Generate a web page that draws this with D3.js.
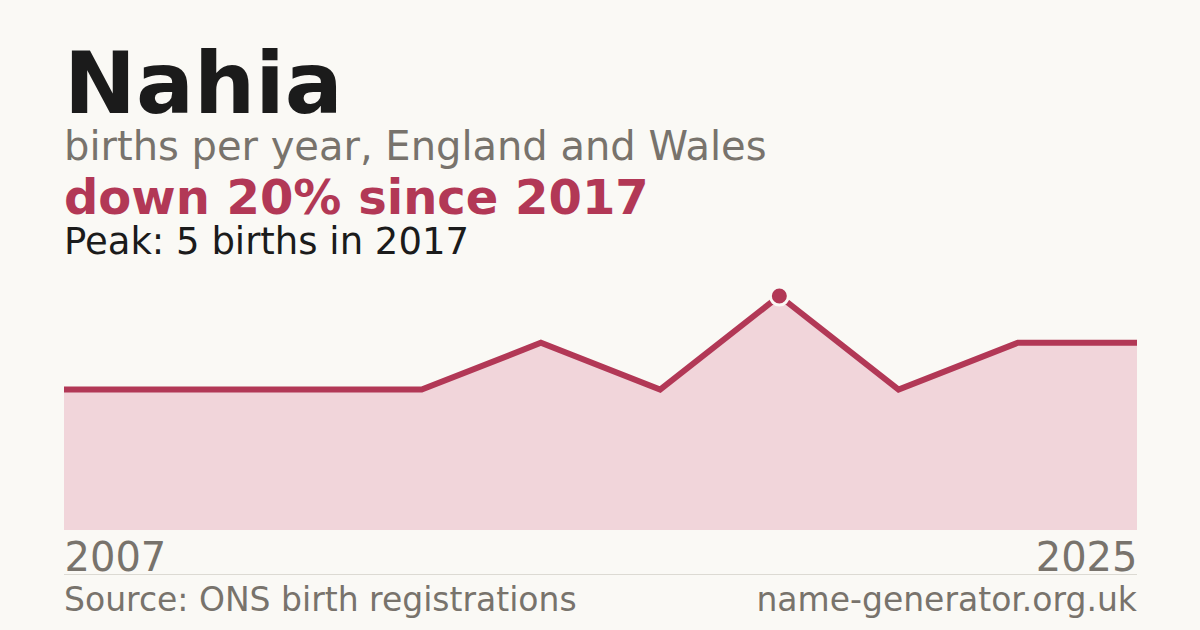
<!DOCTYPE html>
<html>
<head>
<meta charset="utf-8">
<script src="https://cdn.jsdelivr.net/npm/d3@7"></script>
<style>
  body { margin: 0; background: #faf9f5; }
  svg { display: block; font-family: "DejaVu Sans", sans-serif; }
</style>
</head>
<body>
<div id="chart-area"></div>
<script>

// data points (evenly spaced, first and last year labelled)
let years = ["2007", "2009", "2011", "2013", "2015", "2016", "2017", "2019", "2021", "2025"];
let births = [3, 3, 3, 3, 4, 3, 5, 3, 4, 4];
let peakYear = "2017";
let peakValue = 5;

let width = 1200, height = 630;

let svg = d3.select("#chart-area").append("svg")
	.attr("width", width)
	.attr("height", height);

svg.append("rect")
	.attr("width", width)
	.attr("height", height)
	.attr("fill", "#faf9f5");

// header text
svg.append("text")
	.attr("x", 64).attr("y", 113)
	.attr("font-size", 86).attr("font-weight", "bold")
	.attr("fill", "#1b1b1b")
	.text("Nahia");

svg.append("text")
	.attr("x", 64).attr("y", 160)
	.attr("font-size", 40)
	.attr("fill", "#78736c")
	.text("births per year, England and Wales");

svg.append("text")
	.attr("x", 64).attr("y", 214)
	.attr("font-size", 48).attr("font-weight", "bold")
	.attr("fill", "#b23856")
	.text("down 20% since 2017");

svg.append("text")
	.attr("x", 64).attr("y", 254)
	.attr("font-size", 37)
	.attr("fill", "#1b1b1b")
	.text("Peak: " + peakValue + " births in " + peakYear);

// scales
let x = d3.scalePoint()
	.domain(years)
	.range([64, 1137]);

let y = d3.scaleLinear()
	.domain([0, peakValue])
	.range([530, 296]);

let data = years.map((yr, i) => ({year: yr, value: births[i]}));

// area
let area = d3.area()
	.x(d => x(d.year))
	.y0(y(0))
	.y1(d => y(d.value));

svg.append("path")
	.datum(data)
	.attr("d", area)
	.attr("fill", "#f1d5da");

// line
let line = d3.line()
	.x(d => x(d.year))
	.y(d => y(d.value));

svg.append("path")
	.datum(data)
	.attr("d", line)
	.attr("fill", "none")
	.attr("stroke", "#b23856")
	.attr("stroke-width", 6);

// peak marker
let peak = data.find(d => d.year === peakYear);
svg.append("circle")
	.attr("cx", x(peak.year))
	.attr("cy", y(peak.value))
	.attr("r", 9)
	.attr("fill", "#b23856")
	.attr("stroke", "#faf9f5")
	.attr("stroke-width", 3);

// x labels, first and last only
let xAxis = d3.axisBottom(x)
	.tickValues([years[0], years[years.length - 1]])
	.tickSize(0)
	.tickPadding(0);

let gx = svg.append("g")
	.attr("transform", "translate(0," + 530 + ")")
	.call(xAxis);
gx.select(".domain").remove();
gx.selectAll("text")
	.attr("y", 41)
	.attr("dy", 0)
	.attr("font-size", 40)
	.attr("font-family", "DejaVu Sans, sans-serif")
	.attr("fill", "#78736c")
	.attr("text-anchor", (d, i) => i === 0 ? "start" : "end");

// footer
svg.append("line")
	.attr("x1", 64).attr("x2", 1137)
	.attr("y1", 574.5).attr("y2", 574.5)
	.attr("stroke", "#dcdad3")
	.attr("stroke-width", 1);

svg.append("text")
	.attr("x", 64).attr("y", 611)
	.attr("font-size", 33)
	.attr("fill", "#78736c")
	.text("Source: ONS birth registrations");

svg.append("text")
	.attr("x", 1137).attr("y", 611)
	.attr("font-size", 33)
	.attr("text-anchor", "end")
	.attr("fill", "#78736c")
	.text("name-generator.org.uk");

</script>
</body>
</html>
